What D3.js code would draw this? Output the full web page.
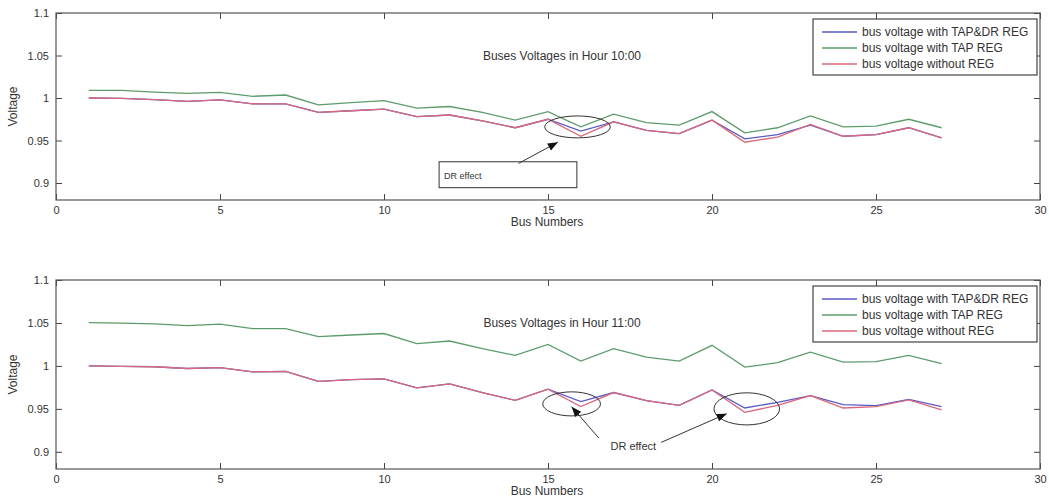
<!DOCTYPE html>
<html>
<head>
<meta charset="utf-8">
<script src="https://cdn.jsdelivr.net/npm/d3@7"></script>
<style>
  body { margin: 0; background: #fff; }
  svg text { font-family: "Liberation Sans", Arial, sans-serif; fill: #333; }
</style>
</head>
<body>
<svg id="chart" width="1049" height="504"></svg>
<script>
// bus numbers 1..27
const buses = [1, 2, 3, 4, 5, 6, 7, 8, 9, 10, 11, 12, 13, 14, 15, 16, 17, 18, 19, 20, 21, 22, 23, 24, 25, 26, 27];

const seriesNames = ["bus voltage with TAP&DR REG", "bus voltage with TAP REG", "bus voltage without REG"];
const xTicks = [0, 5, 10, 15, 20, 25, 30];
const yTicks = [0.9, 0.95, 1, 1.05, 1.1];

// hour 10:00
const h10TapDr = [1.000, 0.9996, 0.998, 0.996, 0.9977, 0.993, 0.993, 0.983, 0.985, 0.987, 0.978, 0.980, 0.973, 0.965, 0.975, 0.961, 0.972, 0.962, 0.958, 0.974, 0.952, 0.957, 0.968, 0.955, 0.957, 0.965, 0.953];
const h10Tap   = [1.009, 1.009, 1.007, 1.0055, 1.0067, 1.002, 1.0035, 0.992, 0.9945, 0.997, 0.988, 0.990, 0.983, 0.974, 0.984, 0.966, 0.981, 0.971, 0.968, 0.984, 0.959, 0.965, 0.979, 0.966, 0.967, 0.975, 0.965];
const h10NoReg = [1.000, 0.9996, 0.998, 0.996, 0.9977, 0.993, 0.993, 0.983, 0.985, 0.987, 0.978, 0.980, 0.973, 0.965, 0.975, 0.955, 0.972, 0.962, 0.958, 0.974, 0.948, 0.954, 0.969, 0.955, 0.957, 0.965, 0.953];

// hour 11:00
const h11TapDr = [1.000, 0.9995, 0.999, 0.997, 0.998, 0.993, 0.9935, 0.982, 0.984, 0.985, 0.9745, 0.979, 0.969, 0.960, 0.973, 0.9585, 0.969, 0.9596, 0.954, 0.972, 0.951, 0.9576, 0.9655, 0.955, 0.9538, 0.961, 0.9526];
const h11Tap   = [1.0505, 1.0498, 1.049, 1.047, 1.0486, 1.0435, 1.0435, 1.034, 1.036, 1.0377, 1.026, 1.029, 1.020, 1.0123, 1.025, 1.0056, 1.020, 1.0103, 1.0056, 1.024, 0.9986, 1.0037, 1.016, 1.0045, 1.005, 1.0123, 1.0026];
const h11NoReg = [1.000, 0.9995, 0.999, 0.997, 0.998, 0.993, 0.9935, 0.982, 0.984, 0.985, 0.9745, 0.979, 0.969, 0.960, 0.973, 0.9526, 0.969, 0.9596, 0.954, 0.972, 0.946, 0.954, 0.9655, 0.951, 0.9526, 0.9604, 0.9487];

const colors = ["#5a5ac4", "#5c9c6c", "#d8697c"];

const svg = d3.select("#chart");

function drawPanel(top, bottom, title, series, notes) {
    const x = d3.scaleLinear().domain([0, 30]).range([56, 1040]);
    const y = d3.scaleLinear().domain([0.88, 1.1]).range([bottom, top]);
    const g = svg.append("g");

    // axes, ticks pointing inside like matlab
    g.append("g").attr("transform", `translate(0,${bottom})`)
        .call(d3.axisBottom(x).tickValues(xTicks).tickSize(-6).tickSizeOuter(0).tickPadding(6).tickFormat(d3.format("d")));
    g.append("g").attr("transform", `translate(0,${top})`)
        .call(d3.axisTop(x).tickValues(xTicks).tickSize(-6).tickSizeOuter(0).tickFormat(""));
    g.append("g").attr("transform", `translate(56,0)`)
        .call(d3.axisLeft(y).tickValues(yTicks).tickSize(-6).tickSizeOuter(0).tickPadding(7).tickFormat(d => d3.format("")(d)));
    g.append("g").attr("transform", `translate(1040,0)`)
        .call(d3.axisRight(y).tickValues(yTicks).tickSize(-6).tickSizeOuter(0).tickFormat(""));
    g.selectAll(".domain").remove();
    g.selectAll(".tick line").attr("stroke", "#444");
    g.selectAll(".tick text").attr("font-size", 11).attr("fill", "#333");

    g.append("rect")
        .attr("x", 56).attr("y", top)
        .attr("width", 984).attr("height", bottom - top)
        .attr("fill", "none").attr("stroke", "#555").attr("stroke-width", 1.2);

    // lines
    const line = d3.line().x((d, i) => x(buses[i])).y(d => y(d));
    series.forEach((s, i) => {
        g.append("path").datum(s)
            .attr("d", line)
            .attr("fill", "none")
            .attr("stroke", colors[i])
            .attr("stroke-width", 1.3);
    });

    // title and labels
    g.append("text").attr("x", 562).attr("y", y(1.05) + 4)
        .attr("text-anchor", "middle").attr("font-size", 12).text(title);
    g.append("text").attr("x", 547).attr("y", bottom + 26)
        .attr("text-anchor", "middle").attr("font-size", 12).text("Bus Numbers");
    g.append("text")
        .attr("transform", `translate(17,${(top + bottom) / 2}) rotate(-90)`)
        .attr("text-anchor", "middle").attr("font-size", 12).text("Voltage");

    // legend
    const lg = g.append("g").attr("transform", `translate(813,${top + 6})`);
    lg.append("rect").attr("width", 224).attr("height", 56)
        .attr("fill", "#fff").attr("stroke", "#444").attr("stroke-width", 1.2);
    seriesNames.forEach((name, i) => {
        const yy = 13 + i * 16;
        lg.append("line").attr("x1", 9).attr("x2", 44).attr("y1", yy).attr("y2", yy)
            .attr("stroke", colors[i]).attr("stroke-width", 1.3);
        lg.append("text").attr("x", 49).attr("y", yy + 4).attr("font-size", 12).text(name);
    });

    // DR effect annotations
    notes.ellipses.forEach(e => {
        g.append("ellipse")
            .attr("cx", x(e[0])).attr("cy", y(e[1]))
            .attr("rx", x(e[2]) - x(0)).attr("ry", y(0.9) - y(0.9 + e[3]))
            .attr("fill", "none").attr("stroke", "#333").attr("stroke-width", 1);
    });
    notes.arrows.forEach(a => {
        const x1 = x(a[0]), y1 = y(a[1]), x2 = x(a[2]), y2 = y(a[3]);
        const ang = Math.atan2(y2 - y1, x2 - x1);
        g.append("line").attr("x1", x1).attr("y1", y1).attr("x2", x2).attr("y2", y2)
            .attr("stroke", "#333").attr("stroke-width", 1);
        const len = 10, w = 4;
        const bx = x2 - len * Math.cos(ang), by = y2 - len * Math.sin(ang);
        g.append("path")
            .attr("d", `M${x2},${y2}L${bx + w * Math.sin(ang)},${by - w * Math.cos(ang)}L${bx - w * Math.sin(ang)},${by + w * Math.cos(ang)}Z`)
            .attr("fill", "#111");
    });
    if (notes.box) {
        const b = notes.box;
        g.append("rect").attr("x", x(b[0])).attr("y", y(b[1]))
            .attr("width", x(b[2]) - x(b[0])).attr("height", y(b[3]) - y(b[1]))
            .attr("fill", "none").attr("stroke", "#333").attr("stroke-width", 1);
        g.append("text").attr("x", x(b[0]) + 5).attr("y", (y(b[1]) + y(b[3])) / 2 + 4)
            .attr("font-size", 9).text("DR effect");
    }
    if (notes.label) {
        g.append("text").attr("x", x(notes.label[0])).attr("y", y(notes.label[1]) + 4)
            .attr("text-anchor", "middle").attr("font-size", 11).text("DR effect");
    }
}

drawPanel(13, 200, "Buses Voltages in Hour 10:00", [h10TapDr, h10Tap, h10NoReg], {
    ellipses: [[15.9, 0.966, 1.0, 0.0129]],
    arrows: [[14.1, 0.923, 15.3, 0.948]],
    box: [11.68, 0.925, 15.88, 0.8945]
});

drawPanel(280, 469, "Buses Voltages in Hour 11:00", [h11TapDr, h11Tap, h11NoReg], {
    ellipses: [[15.72, 0.9558, 0.88, 0.014], [21.06, 0.950, 1.0, 0.0187]],
    arrows: [[16.55, 0.916, 15.72, 0.9525], [18.45, 0.911, 20.45, 0.9444]],
    label: [17.6, 0.907]
});
</script>
</body>
</html>
